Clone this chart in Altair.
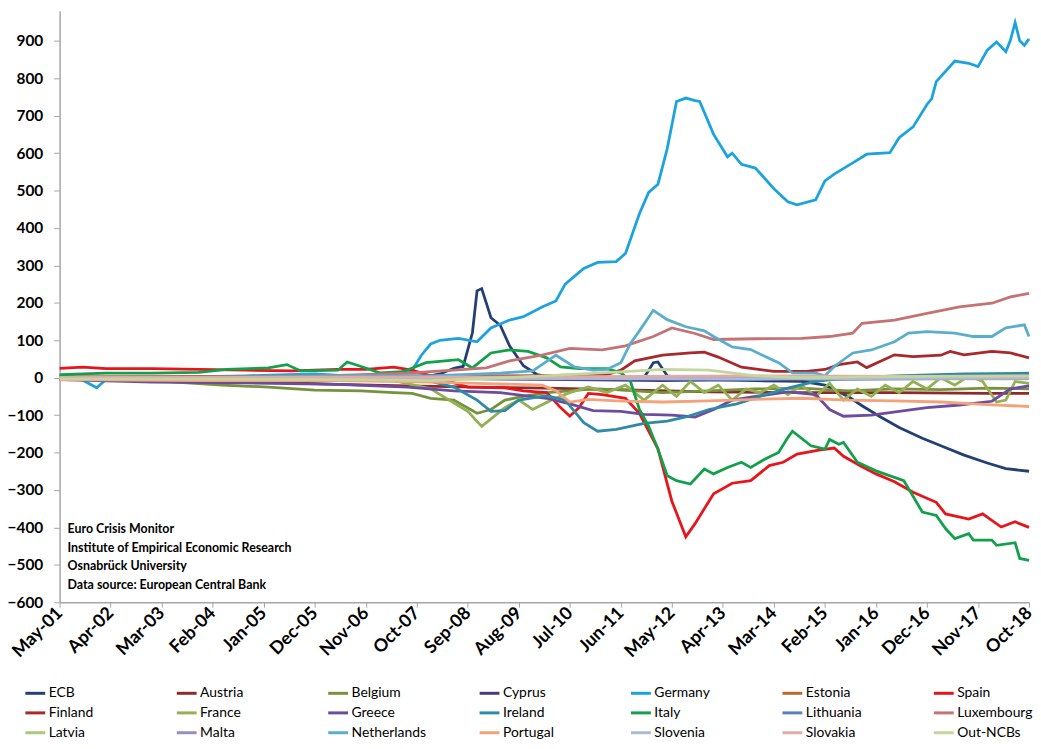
import altair as alt
import pandas as pd

# ---- categories / legend order ----
series_names = ["ECB", "Austria", "Belgium", "Cyprus", "Germany", "Estonia", "Spain",
                "Finland", "France", "Greece", "Ireland", "Italy", "Lithuania", "Luxembourg",
                "Latvia", "Malta", "Netherlands", "Portugal", "Slovenia", "Slovakia", "Out-NCBs"]
series_colors = ["#243f73", "#8e2a2c", "#76923c", "#4a3c7c", "#1ca3dd", "#b8692e", "#e8141b",
                 "#a8282b", "#93b152", "#6c4c9f", "#2f8aa6", "#12a04a", "#5a80bf", "#c47274",
                 "#a9c97a", "#9c8cc2", "#5aaecb", "#f4a27a", "#aab9d8", "#e0aaa8", "#c3d69b"]

# x tick labels (every 11 months, month index 0 = May-01)
tick_labels = ["May-01", "Apr-02", "Mar-03", "Feb-04", "Jan-05", "Dec-05", "Nov-06", "Oct-07",
               "Sep-08", "Aug-09", "Jul-10", "Jun-11", "May-12", "Apr-13", "Mar-14", "Feb-15",
               "Jan-16", "Dec-16", "Nov-17", "Oct-18"]
y_ticks = list(range(-600, 1000, 100))

annotation_lines = ["Euro Crisis Monitor", "Institute of Empirical Economic Research",
                    "Osnabrück University", "Data source: European Central Bank"]

# ---- series values (month index since May-01, EUR bn) ----
ecb_m = [0, 20, 40, 60, 78, 82, 85, 87, 89, 90, 91, 93, 95, 97, 100, 103, 106, 116, 126, 128, 129, 131, 134, 140, 150, 160, 165, 170, 173, 177, 181, 186, 190, 195, 200, 204, 209]
ecb_v = [-3, -2, -3, -2, 0, 10, 25, 30, 120, 232, 238, 160, 140, 85, 32, 8, 0, -2, 0, 40, 42, 5, 0, -5, -8, -10, -20, -50, -75, -105, -133, -162, -182, -207, -228, -243, -250]

austria_m = [0, 20, 40, 60, 75, 90, 105, 120, 140, 160, 180, 200, 209]
austria_v = [-2, -5, -10, -18, -22, -25, -28, -32, -38, -40, -40, -42, -42]

belgium_m = [0, 20, 35, 45, 55, 65, 72, 76, 80, 85, 90, 93, 96, 100, 105, 110, 115, 120, 130, 140, 150, 160, 170, 180, 190, 200, 209]
belgium_v = [-3, -8, -20, -25, -33, -35, -40, -42, -55, -60, -95, -85, -60, -50, -40, -35, -30, -32, -40, -35, -30, -28, -35, -30, -32, -28, -30]

cyprus_m = [0, 80, 110, 130, 150, 180, 209]
cyprus_v = [0, -2, -5, -8, -5, -3, -2]

germany_m = [0, 4, 8, 10, 20, 40, 55, 62, 72, 76, 78, 80, 82, 86, 90, 93, 97, 100, 104, 107, 109, 113, 116, 120, 122, 125, 127, 129, 131, 133, 135, 137, 138, 141, 144, 145, 147, 150, 154, 157, 159, 163, 165, 167, 171, 174, 179, 181, 184, 187, 188, 189, 193, 196, 198, 200, 202, 204, 205, 206, 207, 208, 209]
germany_v = [5, 0, -27, -5, 0, 5, 10, 5, 10, 20, 60, 90, 100, 105, 96, 133, 154, 163, 189, 205, 250, 292, 308, 310, 332, 438, 495, 517, 612, 738, 747, 740, 738, 650, 590, 600, 570, 560, 505, 470, 462, 475, 526, 544, 574, 597, 601, 641, 670, 730, 745, 791, 846, 840, 831, 875, 897, 871, 902, 949, 900, 888, 905]

estonia_m = [0, 100, 150, 209]
estonia_v = [0, -1, -2, -2]

spain_m = [0, 5, 10, 20, 30, 40, 50, 60, 66, 72, 76, 80, 84, 88, 96, 100, 105, 108, 110, 112, 114, 117, 122, 125, 129, 132, 135, 137, 141, 145, 149, 153, 156, 159, 164, 167, 169, 173, 176, 180, 184, 189, 191, 196, 199, 203, 206, 209]
spain_v = [25, 28, 24, 24, 22, 20, 18, 22, 22, 28, 20, 5, -10, -25, -27, -35, -40, -80, -103, -80, -42, -45, -55, -95, -190, -330, -425, -390, -310, -282, -275, -235, -226, -204, -193, -188, -210, -238, -257, -278, -306, -333, -364, -378, -364, -399, -385, -400]

finland_m = [0, 40, 80, 100, 118, 121, 124, 130, 136, 139, 142, 147, 154, 161, 165, 168, 172, 174, 180, 184, 190, 192, 195, 201, 205, 209]
finland_v = [2, 3, 5, 5, 8, 20, 45, 60, 66, 68, 55, 28, 17, 17, 22, 35, 42, 27, 61, 56, 60, 70, 61, 70, 66, 53]

france_m = [0, 70, 80, 84, 88, 91, 93, 96, 99, 102, 106, 110, 114, 118, 122, 126, 130, 133, 136, 139, 142, 145, 148, 151, 154, 157, 160, 163, 166, 169, 172, 175, 178, 181, 184, 187, 190, 193, 196, 199, 202, 204, 206, 209]
france_v = [0, -2, -30, -60, -90, -130, -110, -80, -60, -85, -60, -40, -25, -40, -20, -60, -20, -50, -10, -40, -20, -60, -30, -40, -20, -45, -20, -50, -15, -60, -30, -50, -20, -40, -10, -30, 0, -20, 5, -10, -65, -60, -10, -15]

greece_m = [0, 20, 40, 60, 75, 85, 95, 105, 110, 115, 121, 126, 132, 137, 141, 145, 150, 157, 163, 166, 169, 175, 181, 187, 194, 201, 205, 209]
greece_v = [-5, -12, -14, -18, -25, -35, -40, -55, -70, -88, -90, -98, -100, -105, -85, -60, -50, -38, -45, -85, -103, -100, -90, -80, -73, -63, -30, -22]

ireland_m = [0, 40, 70, 80, 85, 90, 93, 96, 99, 105, 109, 113, 116, 120, 126, 131, 135, 140, 146, 151, 157, 163, 169, 180, 195, 209]
ireland_v = [-2, -3, -5, -10, -25, -60, -90, -88, -60, -48, -60, -120, -143, -138, -122, -116, -105, -85, -70, -50, -28, -10, -2, 5, 10, 12]

italy_m = [0, 10, 20, 30, 36, 45, 49, 52, 60, 62, 65, 69, 74, 79, 86, 89, 93, 97, 101, 105, 108, 112, 118, 121, 123, 125, 127, 129, 131, 133, 136, 139, 141, 144, 147, 149, 152, 155, 157, 158, 162, 165, 166, 168, 169, 172, 176, 182, 186, 189, 191, 193, 196, 197, 201, 202, 206, 207, 209]
italy_v = [8, 12, 12, 14, 22, 26, 35, 18, 20, 42, 30, 13, 16, 40, 48, 26, 66, 74, 70, 53, 29, 24, 24, 13, -7, -85, -130, -191, -262, -275, -284, -244, -257, -240, -226, -240, -218, -200, -160, -143, -182, -191, -165, -178, -173, -226, -249, -275, -359, -368, -403, -430, -417, -434, -434, -448, -441, -483, -488]

lithuania_m = [0, 120, 150, 170, 190, 209]
lithuania_v = [0, -3, -5, 2, 5, 6]

luxembourg_m = [0, 30, 60, 75, 85, 92, 97, 104, 110, 117, 122, 128, 132, 137, 141, 150, 160, 166, 171, 173, 180, 187, 194, 201, 205, 209]
luxembourg_v = [0, 2, 6, 12, 20, 26, 45, 60, 78, 74, 85, 110, 133, 118, 102, 104, 105, 110, 119, 145, 154, 172, 189, 199, 216, 225]

latvia_m = [0, 120, 170, 209]
latvia_v = [0, -2, -3, -3]

malta_m = [0, 100, 160, 209]
malta_v = [0, -1, -2, -2]

netherlands_m = [0, 20, 40, 60, 80, 95, 102, 107, 111, 115, 118, 121, 123, 125, 128, 131, 135, 139, 141, 145, 149, 152, 155, 158, 163, 165, 167, 171, 175, 180, 183, 187, 193, 197, 201, 204, 208, 209]
netherlands_v = [-3, 0, 2, 5, 5, 12, 18, 60, 29, 20, 22, 40, 90, 125, 180, 155, 136, 125, 110, 82, 75, 57, 40, 13, 12, 5, 30, 66, 74, 96, 119, 123, 119, 110, 110, 133, 141, 110]

portugal_m = [0, 30, 60, 80, 90, 104, 107, 110, 114, 120, 130, 140, 150, 160, 170, 180, 190, 200, 209]
portugal_v = [-5, -8, -8, -12, -15, -20, -35, -65, -58, -62, -65, -62, -58, -55, -60, -62, -65, -72, -77]

slovenia_m = [0, 100, 150, 209]
slovenia_v = [0, -2, -3, -1]

slovakia_m = [0, 100, 150, 209]
slovakia_v = [0, 2, 5, 3]

outncb_m = [0, 60, 80, 100, 120, 130, 140, 150, 160, 180, 209]
outncb_v = [-3, -5, -8, 2, 15, 22, 20, 5, 0, 3, 5]

series_data = {
    "ECB": (ecb_m, ecb_v), "Austria": (austria_m, austria_v), "Belgium": (belgium_m, belgium_v),
    "Cyprus": (cyprus_m, cyprus_v), "Germany": (germany_m, germany_v), "Estonia": (estonia_m, estonia_v),
    "Spain": (spain_m, spain_v), "Finland": (finland_m, finland_v), "France": (france_m, france_v),
    "Greece": (greece_m, greece_v), "Ireland": (ireland_m, ireland_v), "Italy": (italy_m, italy_v),
    "Lithuania": (lithuania_m, lithuania_v), "Luxembourg": (luxembourg_m, luxembourg_v),
    "Latvia": (latvia_m, latvia_v), "Malta": (malta_m, malta_v), "Netherlands": (netherlands_m, netherlands_v),
    "Portugal": (portugal_m, portugal_v), "Slovenia": (slovenia_m, slovenia_v),
    "Slovakia": (slovakia_m, slovakia_v), "Out-NCBs": (outncb_m, outncb_v),
}

rows = []
for order, name in enumerate(series_names):
    ms, vs = series_data[name]
    assert len(ms) == len(vs), name
    for m, v in zip(ms, vs):
        rows.append({"series": name, "order": order, "month": m, "value": v})
df = pd.DataFrame(rows)

FONT = "Lato"
label_js = "[" + ",".join("'" + t + "'" for t in tick_labels) + "][round(datum.value/11)]"

lines = alt.Chart(df).mark_line(strokeWidth=2.8, interpolate="linear").encode(
    x=alt.X("month:Q",
            scale=alt.Scale(domain=[0, 209], nice=False, zero=False),
            axis=alt.Axis(values=list(range(0, 210, 11)), labelExpr=label_js, title=None,
                          labelAngle=315, labelAlign="right", labelBaseline="middle",
                          labelFont=FONT, labelFontSize=18, labelFontWeight="bold",
                          labelColor="#000000", labelPadding=3, tickSize=5,
                          tickColor="#a6a6a6", domainColor="#a6a6a6", domainWidth=1.5,
                          grid=False, labelOverlap=False)),
    y=alt.Y("value:Q",
            scale=alt.Scale(domain=[-600, 980], nice=False, zero=False),
            axis=alt.Axis(values=y_ticks, title=None, labelFont=FONT, labelFontSize=15.5,
                          labelFontWeight="bold", labelColor="#000000", labelPadding=11,
                          tickSize=6, tickColor="#a6a6a6", domainColor="#a6a6a6",
                          domainWidth=1.5, grid=False)),
    color=alt.Color("series:N", sort=series_names,
                    scale=alt.Scale(domain=series_names, range=series_colors),
                    legend=alt.Legend(orient="none", legendX=-36, legendY=676, title=None,
                                      direction="horizontal", columns=7, symbolType="stroke",
                                      symbolSize=400, symbolStrokeWidth=3, labelFont=FONT,
                                      labelFontSize=14, labelColor="#000000", labelOffset=2,
                                      columnPadding=46.6, rowPadding=1, gridAlign="all",
                                      padding=0, labelLimit=200)),
    order=alt.Order("order:Q"),
    detail="series:N",
)

annot_df = pd.DataFrame({"label": ["\n".join(annotation_lines)]})
annot = alt.Chart(annot_df).mark_text(
    align="left", baseline="top", font=FONT, fontSize=12.5, fontWeight="bold",
    lineHeight=19, color="#000000", lineBreak="\n"
).encode(x=alt.value(8), y=alt.value(516), text="label:N")

chart = alt.layer(lines, annot).properties(
    width=977, height=596,
    autosize=alt.AutoSizeParams(type="none"),
    padding={"left": 52, "top": 0, "right": 4, "bottom": 145},
    background="white",
).configure_view(stroke=None)

chart.save("out.html", embed_options={"renderer": "svg", "actions": False})
